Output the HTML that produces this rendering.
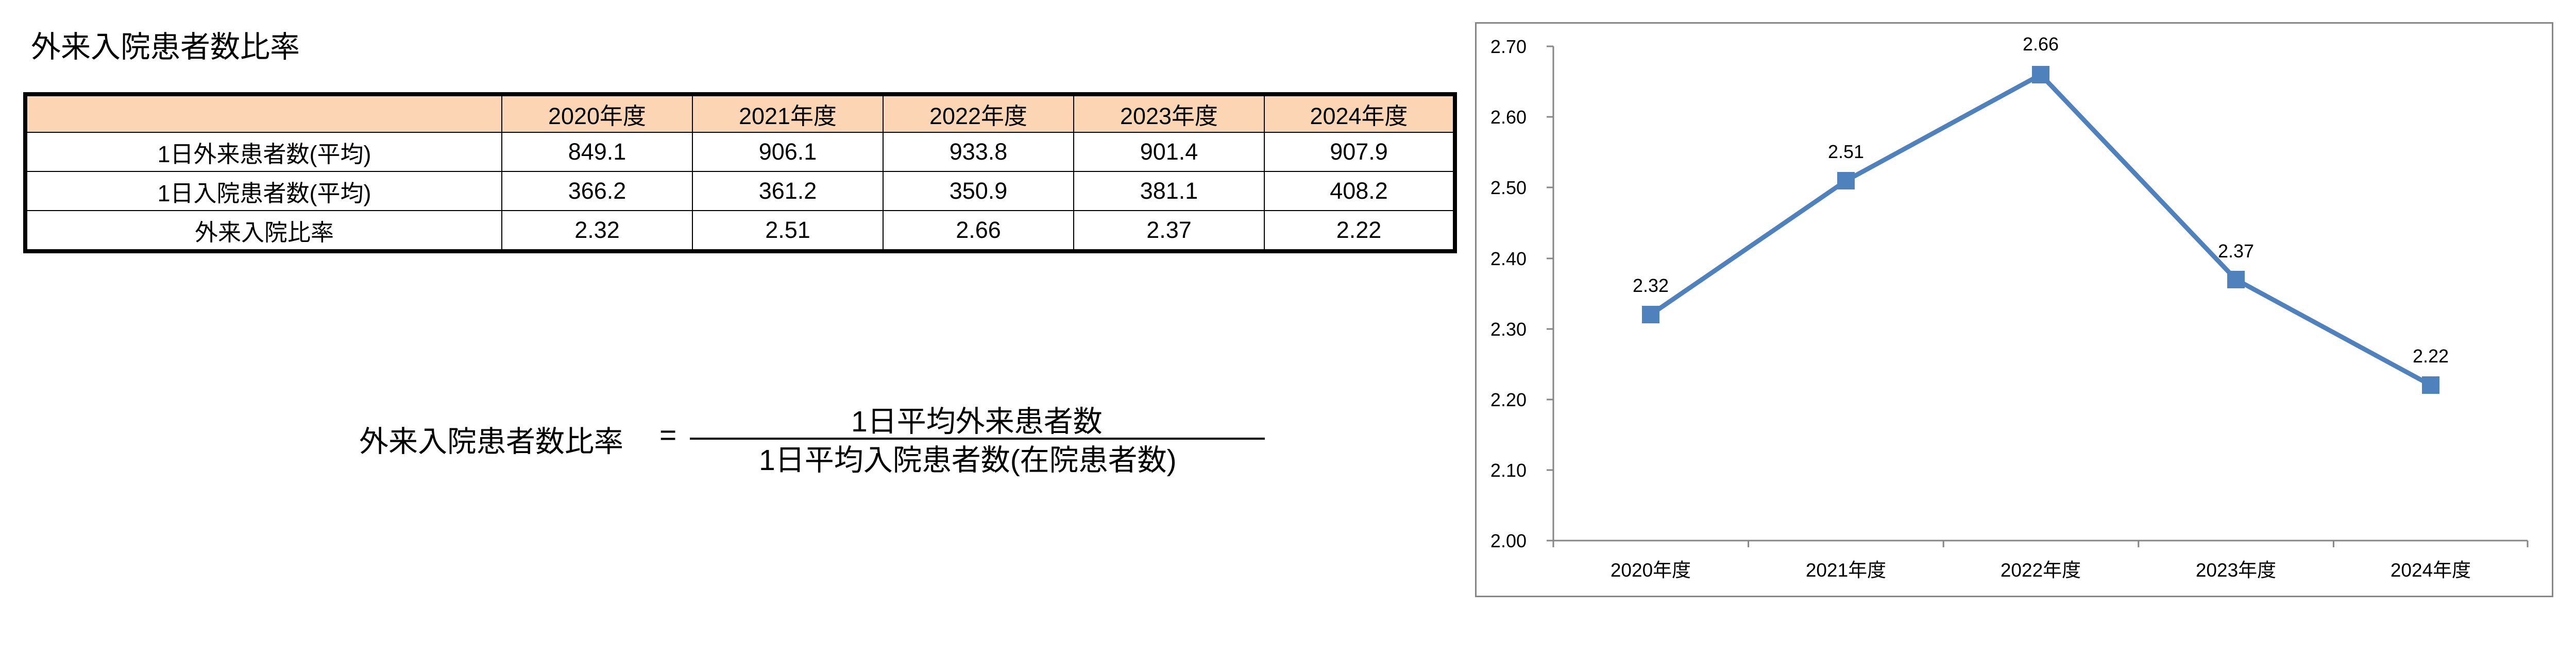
<!DOCTYPE html>
<html><head><meta charset="utf-8">
<style>
html,body{margin:0;padding:0;background:#fff;}
body{width:5093px;height:1280px;position:relative;overflow:hidden;font-family:"Liberation Sans","Noto Sans CJK JP",sans-serif;color:#000;}
.t{position:absolute;white-space:nowrap;}
table{position:absolute;left:45px;top:179px;width:2783px;height:303px;border-collapse:collapse;border:8px solid #000;table-layout:fixed;}
td{border:2px solid #000;text-align:center;font-size:45px;padding:0;}
tr.h td{background:#FCD5B4;height:69px;}
tr.r td{height:74px;}
</style></head><body>
<div class="t" style="left:60px;top:44px;font-size:58px;">外来入院患者数比率</div>
<table>
<colgroup><col style="width:925px"><col><col><col><col><col></colgroup>
<tr class="h"><td></td><td>2020年度</td><td>2021年度</td><td>2022年度</td><td>2023年度</td><td>2024年度</td></tr>
<tr class="r"><td>1日外来患者数(平均)</td><td>849.1</td><td>906.1</td><td>933.8</td><td>901.4</td><td>907.9</td></tr>
<tr class="r"><td>1日入院患者数(平均)</td><td>366.2</td><td>361.2</td><td>350.9</td><td>381.1</td><td>408.2</td></tr>
<tr class="r"><td>外来入院比率</td><td>2.32</td><td>2.51</td><td>2.66</td><td>2.37</td><td>2.22</td></tr>
</table>
<div class="t" style="left:697px;top:812px;font-size:57px;">外来入院患者数比率</div>
<div class="t" style="left:1280px;top:812px;font-size:57px;">=</div>
<div style="position:absolute;left:1339px;top:850px;width:1116px;height:4px;background:#000;"></div>
<div class="t" style="left:1652px;top:773px;font-size:57px;">1日平均外来患者数</div>
<div class="t" style="left:1473px;top:848px;font-size:57px;">1日平均入院患者数(在院患者数)</div>

<svg style="position:absolute;left:0;top:0" width="5093" height="1280">
<rect x="2864.5" y="44.5" width="2090" height="1114" fill="#fff" stroke="#868686" stroke-width="3"/>
<g stroke="#868686" stroke-width="3">
<line x1="3015" y1="90" x2="3015" y2="1050"/>
<line x1="3015" y1="1050" x2="4906" y2="1050"/>
<line x1="3002" y1="90" x2="3015" y2="90"/>
<line x1="3002" y1="227" x2="3015" y2="227"/>
<line x1="3002" y1="364" x2="3015" y2="364"/>
<line x1="3002" y1="502" x2="3015" y2="502"/>
<line x1="3002" y1="639" x2="3015" y2="639"/>
<line x1="3002" y1="776" x2="3015" y2="776"/>
<line x1="3002" y1="913" x2="3015" y2="913"/>
<line x1="3002" y1="1050" x2="3015" y2="1050"/>
<line x1="3015" y1="1050" x2="3015" y2="1063"/>
<line x1="3393.6" y1="1050" x2="3393.6" y2="1063"/>
<line x1="3772.2" y1="1050" x2="3772.2" y2="1063"/>
<line x1="4150.8" y1="1050" x2="4150.8" y2="1063"/>
<line x1="4529.4" y1="1050" x2="4529.4" y2="1063"/>
<line x1="4906" y1="1050" x2="4906" y2="1063"/>
</g>
<g font-family="Liberation Sans, sans-serif" font-size="36" text-anchor="end" fill="#000">
<text x="2963" y="103">2.70</text>
<text x="2963" y="240">2.60</text>
<text x="2963" y="377">2.50</text>
<text x="2963" y="515">2.40</text>
<text x="2963" y="652">2.30</text>
<text x="2963" y="789">2.20</text>
<text x="2963" y="926">2.10</text>
<text x="2963" y="1063">2.00</text>
</g>
<g font-family="Liberation Sans, Noto Sans CJK JP, sans-serif" font-size="37" text-anchor="middle" fill="#000">
<text x="3204" y="1120">2020年度</text>
<text x="3583" y="1120">2021年度</text>
<text x="3961" y="1120">2022年度</text>
<text x="4340" y="1120">2023年度</text>
<text x="4718" y="1120">2024年度</text>
</g>
<polyline points="3204,611 3583,351 3961,145 4340,543 4718,748" fill="none" stroke="#4F81BD" stroke-width="9" stroke-linejoin="round"/>
<g fill="#4F81BD">
<rect x="3187" y="594" width="34" height="34"/>
<rect x="3566" y="334" width="34" height="34"/>
<rect x="3944" y="128" width="34" height="34"/>
<rect x="4323" y="526" width="34" height="34"/>
<rect x="4701" y="731" width="34" height="34"/>
</g>
<g font-family="Liberation Sans, sans-serif" font-size="36" text-anchor="middle" fill="#000">
<text x="3204" y="567">2.32</text>
<text x="3583" y="307">2.51</text>
<text x="3961" y="98">2.66</text>
<text x="4340" y="500">2.37</text>
<text x="4718" y="704">2.22</text>
</g>
</svg>
</body></html>
